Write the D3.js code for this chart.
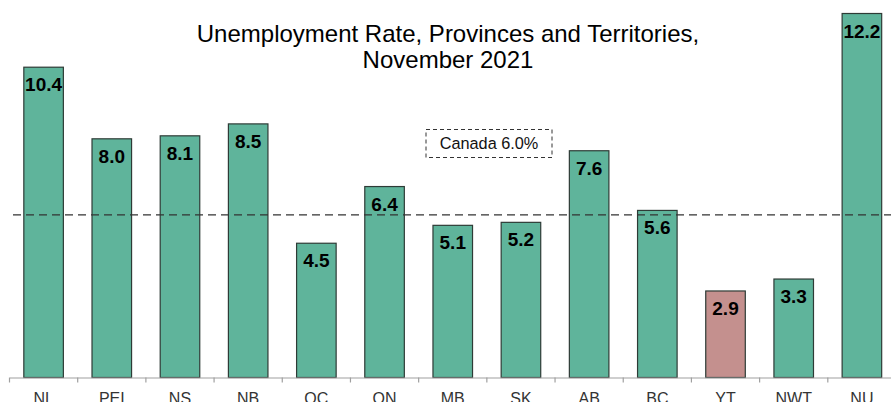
<!DOCTYPE html>
<html>
<head>
<meta charset="utf-8">
<script src="https://cdn.jsdelivr.net/npm/d3@7"></script>
<style>
  html, body { margin: 0; padding: 0; background: #fff; }
  svg { display: block; font-family: "Liberation Sans", Arial, sans-serif; }
</style>
</head>
<body>
<div id="chart"></div>
<script>
// Unemployment rate by province / territory, Nov 2021
const regions = ['NL', 'PEI', 'NS', 'NB', 'QC', 'ON', 'MB', 'SK', 'AB', 'BC', 'YT', 'NWT', 'NU'];
const rates = [10.4, 8.0, 8.1, 8.5, 4.5, 6.4, 5.1, 5.2, 7.6, 5.6, 2.9, 3.3, 12.2];
const highlighted = ['YT'];
const canadaRate = 6.0;
// the dashed reference line in the picture sits a bit under 6.0
const canadaLine = 5.45;
const titleLines = ['Unemployment Rate, Provinces and Territories,', 'November 2021'];

const width = 891, height = 402;
const baseY = 377.5;

const svg = d3.select('#chart').append('svg')
    .attr('width', width)
    .attr('height', height);

const x = d3.scaleBand()
    .domain(regions)
    .range([9.5, 896])
    .padding(0);

const y = d3.scaleLinear()
    .domain([0, 12.2])
    .range([baseY, 13.5]);

const barW = x.bandwidth() * 0.58;

// bars
svg.selectAll('.bar')
    .data(regions)
    .enter().append('rect')
    .attr('class', 'bar')
    .attr('x', d => x(d) + (x.bandwidth() - barW) / 2)
    .attr('y', (d, i) => y(rates[i]))
    .attr('width', barW)
    .attr('height', (d, i) => y(0) - y(rates[i]))
    .attr('fill', d => highlighted.includes(d) ? '#c4908e' : '#5fb49b')
    .attr('stroke', '#2e3b36')
    .attr('stroke-width', 1.2);

// value labels inside the top of each bar
svg.selectAll('.val')
    .data(regions)
    .enter().append('text')
    .attr('class', 'val')
    .attr('x', d => x(d) + x.bandwidth() / 2)
    .attr('y', (d, i) => y(rates[i]) + 24)
    .attr('text-anchor', 'middle')
    .attr('font-size', '19px')
    .attr('font-weight', 'bold')
    .attr('fill', '#000')
    .text((d, i) => rates[i].toFixed(1));

// Canada reference line
svg.append('line')
    .attr('x1', 13)
    .attr('x2', 891)
    .attr('y1', y(canadaLine))
    .attr('y2', y(canadaLine))
    .attr('stroke', '#333')
    .attr('stroke-width', 1.2)
    .attr('stroke-dasharray', '8,5');

// Canada label box
const boxX = 426, boxY = 129.5, boxW = 126, boxH = 28;
svg.append('rect')
    .attr('x', boxX)
    .attr('y', boxY)
    .attr('width', boxW)
    .attr('height', boxH)
    .attr('fill', '#fff')
    .attr('stroke', '#333')
    .attr('stroke-width', 1)
    .attr('stroke-dasharray', '4,3');

svg.append('text')
    .attr('x', boxX + boxW / 2)
    .attr('y', boxY + 19.5)
    .attr('text-anchor', 'middle')
    .attr('font-size', '16.3px')
    .attr('fill', '#111')
    .text(`Canada ${canadaRate.toFixed(1)}%`);

// x axis
const xAxis = d3.axisBottom(x).tickSize(0).tickPadding(0);
const axisG = svg.append('g')
    .attr('transform', `translate(0,${baseY})`)
    .call(xAxis);
axisG.select('.domain').attr('stroke', '#a0a0a0').attr('stroke-width', 1.2);
axisG.selectAll('.tick text')
    .attr('font-size', '16px')
    .attr('fill', '#333')
    .attr('font-family', '"Liberation Sans", Arial, sans-serif')
    .attr('dy', null)
    .attr('y', 26.5);

// tick marks between categories
svg.selectAll('.sep')
    .data(regions)
    .enter().append('line')
    .attr('class', 'sep')
    .attr('x1', d => x(d))
    .attr('x2', d => x(d))
    .attr('y1', baseY)
    .attr('y2', baseY + 5)
    .attr('stroke', '#a0a0a0')
    .attr('stroke-width', 1.2);

// title
svg.append('text')
    .attr('text-anchor', 'middle')
    .attr('font-size', '24px')
    .attr('fill', '#000')
    .selectAll('tspan')
    .data(titleLines)
    .enter().append('tspan')
    .attr('x', 448)
    .attr('y', (d, i) => 42 + i * 25.5)
    .text(d => d);
</script>
</body>
</html>
